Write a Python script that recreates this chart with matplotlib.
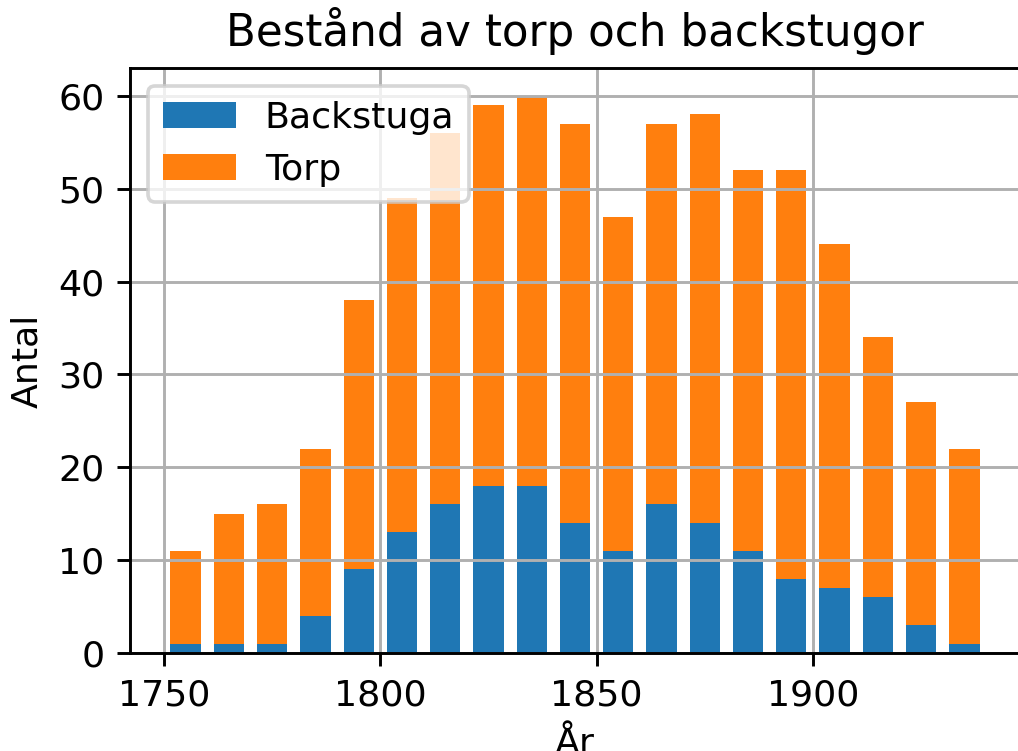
import matplotlib
matplotlib.use("Agg")
import matplotlib.pyplot as plt
import numpy as np

years = [1755, 1765, 1775, 1785, 1795, 1805, 1815, 1825, 1835, 1845,
         1855, 1865, 1875, 1885, 1895, 1905, 1915, 1925, 1935]
totals = [11, 15, 16, 22, 38, 49, 56, 59, 60, 57,
          47, 57, 58, 52, 52, 44, 34, 27, 22]
backstuga = [1, 1, 1, 4, 9, 13, 16, 18, 18, 14,
             11, 16, 14, 11, 8, 7, 6, 3, 1]
torp = [t - b for t, b in zip(totals, backstuga)]

DPI = 262
fig = plt.figure(figsize=(1018 / DPI, 751 / DPI), dpi=DPI)
ax = fig.add_axes([130 / 1018, 1 - 653 / 751, 890 / 1018, 585 / 751])

ax.bar(years, backstuga, width=7, color="#1f77b4", label="Backstuga")
ax.bar(years, torp, width=7, bottom=backstuga, color="#ff7f0e", label="Torp")
ax.grid(True)
ax.set_title("Bestånd av torp och backstugor")
ax.set_xlabel("År")
ax.set_ylabel("Antal")
ax.legend(loc="upper left")

fig.savefig("out.png", dpi=DPI)
